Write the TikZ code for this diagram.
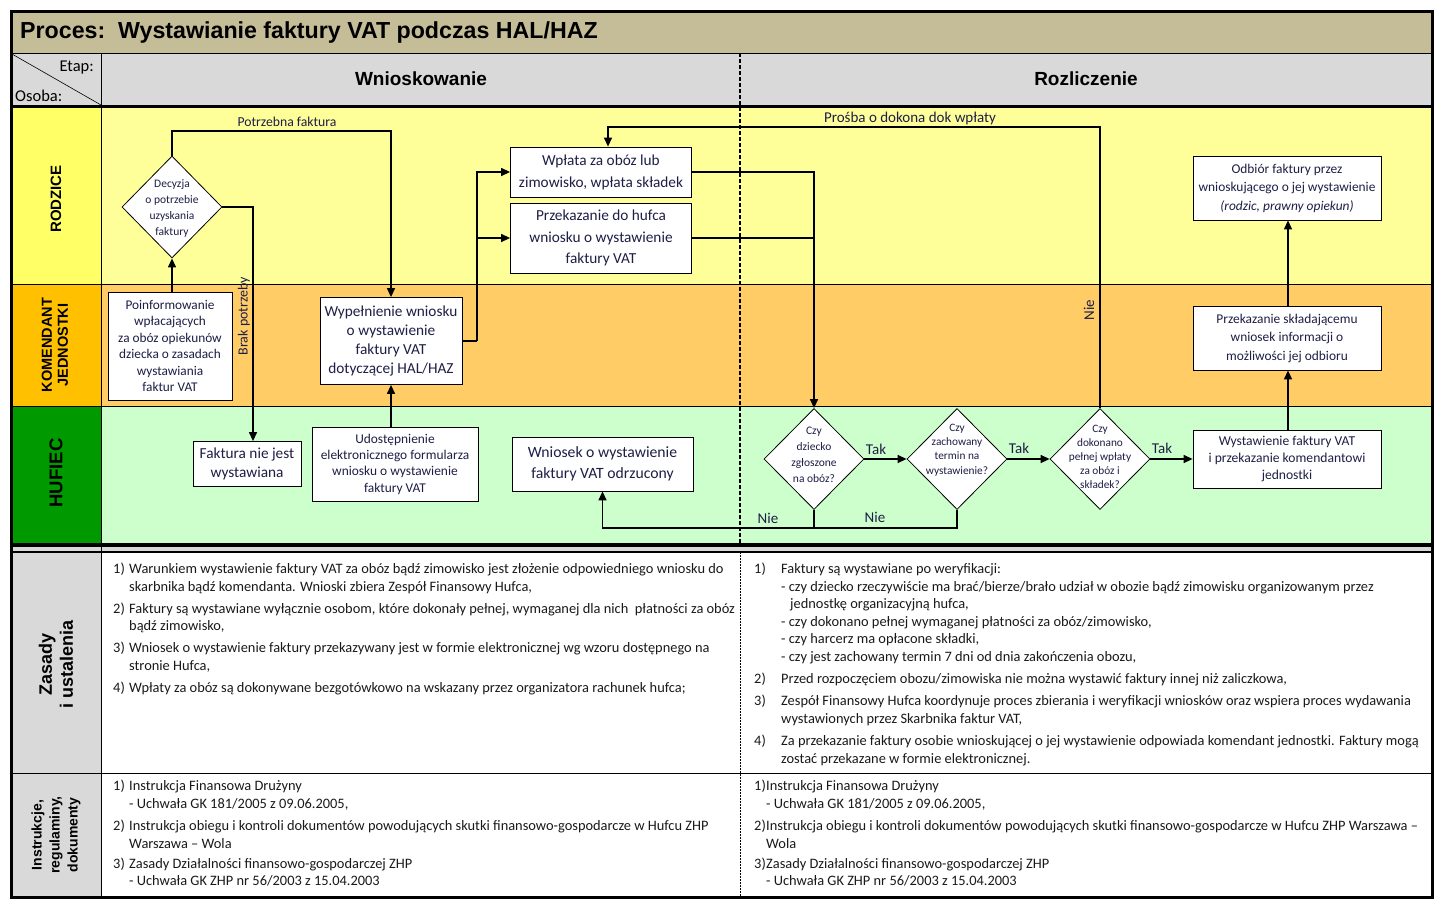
\documentclass[tikz,border=0pt]{standalone}
\usepackage{fontspec}
\setmainfont{Carlito}
\newfontfamily\arial{Liberation Sans}
\usetikzlibrary{arrows.meta,shapes.geometric,calc}
\definecolor{tanc}{HTML}{C4BD97}
\definecolor{hdrgrey}{HTML}{D9D9D9}
\definecolor{yel}{HTML}{FFFF99}
\definecolor{yellab}{HTML}{FFFF66}
\definecolor{ora}{HTML}{FFCC66}
\definecolor{oralab}{HTML}{FFC000}
\definecolor{grn}{HTML}{CCFFCC}
\definecolor{grnlab}{HTML}{009900}
\definecolor{ink}{HTML}{1E1E46}
\newcommand\fsz[2]{\fontsize{#1}{#2}\selectfont}
\newcommand\bline[4]{\node[bodyline] (#1) at (#2,#3) {#4};}
\begin{document}
\begin{tikzpicture}[x=1pt,y=-1pt,
  box/.style={draw=black, line width=0.8pt, fill=white, inner sep=0pt, align=center, text=ink},
  dia/.style={draw=black, line width=0.8pt, fill=white, diamond, inner sep=0pt},
  dtext/.style={inner sep=0pt, align=center, text=ink},
  arr/.style={line width=1.3pt, -{Triangle[length=9pt,width=8pt]}},
  conn/.style={line width=1.3pt},
  lbl/.style={inner sep=0pt, text=ink},
  lanelab/.style={inner sep=0pt, rotate=90, align=center, font=\arial\bfseries},
  bodyline/.style={anchor=base west, inner sep=0pt, font=\fsz{14.4}{16}, text=black!90}
]
\useasboundingbox (0,0) rectangle (1443,907);
% backgrounds
\fill[tanc] (11,12) rectangle (1432,53);
\fill[hdrgrey] (11,53) rectangle (1432,106);
\fill[yellab] (11,106) rectangle (101,284);
\fill[yel] (101,106) rectangle (1432,284);
\fill[oralab] (11,284) rectangle (101,406);
\fill[ora] (101,284) rectangle (1432,406);
\fill[grnlab] (11,406) rectangle (101,545);
\fill[grn] (101,406) rectangle (1432,545);
\fill[hdrgrey] (11,545) rectangle (1432,552);
\fill[hdrgrey] (11,552) rectangle (101,897);
% grid lines
\draw[line width=0.8pt] (11,53) -- (1432,53);
\draw[line width=0.6pt] (12,54) -- (101,105);
\draw[line width=3pt] (11,106) -- (1432,106);
\draw[line width=0.8pt] (11,284) -- (1432,284);
\draw[line width=0.8pt] (11,406) -- (1432,406);
\draw[line width=3.5pt] (11,545) -- (1432,545);
\draw[line width=1.5pt] (11,552) -- (1432,552);
\draw[line width=0.8pt] (11,773) -- (1432,773);
\draw[line width=0.8pt] (101,53) -- (101,897);
\draw[line width=1.8pt, dash pattern=on 4pt off 2pt] (740,53) -- (740,545);
\draw[line width=0.6pt, dash pattern=on 2pt off 1pt] (740,552) -- (740,897);
\draw[line width=3pt] (11,12) rectangle (1432,897);
% headers
\node[anchor=west, inner sep=0pt, font=\arial\bfseries\fsz{23.2}{26}] (title) at (20,33) {Proces:\ \ Wystawianie faktury VAT podczas HAL/HAZ};
\node[anchor=east, inner sep=0pt, font=\fsz{16.5}{18}] (etap) at (94,68) {Etap:};
\node[anchor=west, inner sep=0pt, font=\fsz{16.5}{18}] (osoba) at (15,96) {Osoba:};
\node[inner sep=0pt, font=\arial\bfseries\fsz{19}{24}] (wnio) at (421,79) {Wnioskowanie};
\node[inner sep=0pt, font=\arial\bfseries\fsz{19}{24}] (rozl) at (1086,79) {Rozliczenie};
% lane labels
\node[lanelab, font=\arial\bfseries\fsz{15}{17}] (lrodz) at (56,199) {RODZICE};
\node[lanelab, font=\arial\bfseries\fsz{14.5}{16}] (lkom) at (55,345) {KOMENDANT\\JEDNOSTKI};
\node[lanelab, font=\arial\bfseries\fsz{18.5}{20}] (lhuf) at (56,473) {HUFIEC};
\node[lanelab, font=\arial\bfseries\fsz{18}{21}] (lzas) at (56,664) {Zasady\\i ustalenia};
\node[lanelab, font=\arial\bfseries\fsz{14}{18}] (lins) at (56,835) {Instrukcje,\\regulaminy,\\dokumenty};
% RODZICE lane
\node[dia, minimum width=100pt, minimum height=102pt] (dec1) at (172,207) {};
\node[dtext, font=\fsz{11.5}{16}] (dec1t) at (172,208) {Decyzja\\o potrzebie\\uzyskania\\faktury};
\node[box, minimum width=181pt, minimum height=50pt, font=\fsz{15.3}{22}] (wpl) at (601,172) {Wpłata za obóz lub\\zimowisko, wpłata składek};
\node[box, minimum width=181pt, minimum height=70pt, font=\fsz{15.3}{21.5}] (prz) at (601,238) {Przekazanie do hufca\\wniosku o wystawienie\\faktury VAT};
\node[box, minimum width=188pt, minimum height=64pt, font=\fsz{13.4}{18.5}] (odb) at (1287,188) {Odbiór faktury przez\\wnioskującego o jej wystawienie\\\textit{(rodzic, prawny opiekun)}};
% KOMENDANT lane
\node[box, minimum width=124pt, minimum height=108pt, font=\fsz{13.3}{16.4}] (poinf) at (170,346) {Poinformowanie\\wpłacających\\za obóz opiekunów\\dziecka o zasadach\\wystawiania\\faktur VAT};
\node[box, minimum width=142pt, minimum height=87pt, font=\fsz{15.3}{18.8}] (wyp) at (391,341) {Wypełnienie wniosku\\o wystawienie\\faktury VAT\\dotyczącej HAL/HAZ};
\node[box, minimum width=188pt, minimum height=64pt, font=\fsz{13.4}{18.5}] (prs) at (1287,338) {Przekazanie składającemu\\wniosek informacji o\\możliwości jej odbioru};
% HUFIEC lane
\node[box, minimum width=108pt, minimum height=45pt, font=\fsz{15.3}{19}] (fnw) at (247,464) {Faktura nie jest\\wystawiana};
\node[box, minimum width=166pt, minimum height=74pt, font=\fsz{13.4}{16.3}] (udo) at (395,464) {Udostępnienie\\elektronicznego formularza\\wniosku o wystawienie\\faktury VAT};
\node[box, minimum width=181pt, minimum height=54pt, font=\fsz{15.7}{21}] (odr) at (602.5,464) {Wniosek o wystawienie\\faktury VAT odrzucony};
\node[dia, minimum width=100pt, minimum height=101pt] (d1) at (814,459) {};
\node[dtext, font=\fsz{11.5}{16}] (d1t) at (814,455) {Czy\\dziecko\\zgłoszone\\na obóz?};
\node[dia, minimum width=100pt, minimum height=101pt] (d2) at (957,459) {};
\node[dtext, font=\fsz{11.3}{14.3}] (d2t) at (957,450) {Czy\\zachowany\\termin na\\wystawienie?};
\node[dia, minimum width=100pt, minimum height=101pt] (d3) at (1100,459) {};
\node[dtext, font=\fsz{11.3}{14}] (d3t) at (1100,457) {Czy\\dokonano\\pełnej wpłaty\\za obóz i\\składek?};
\node[box, minimum width=188pt, minimum height=58pt, font=\fsz{13.6}{17}] (wys) at (1287,459) {Wystawienie faktury VAT\\i przekazanie komendantowi\\jednostki};
% coordinates
\coordinate (pf) at (391,131);
\coordinate (bp) at (253,207);
\coordinate (j1) at (477,341);
\coordinate (pr) at (608,127);
\coordinate (nb) at (814,528);
% connectors
\draw[arr] (poinf.north -| dec1.south) -- (dec1.south);
\draw[arr] (dec1.north) |- (pf) -- (wyp.north);
\draw[arr] (dec1.east) -- (bp) -- (bp |- fnw.north);
\draw[conn] (wyp.east) -- (j1);
\draw[arr] (j1) |- (wpl.west);
\draw[arr] (j1) |- (prz.west);
\draw[arr] (wpl.east) -| (d1.north);
\draw[conn] (prz.east) -- (prz.east -| d1.north);
\draw[arr] (d3.north) |- (pr) -- (pr |- wpl.north);
\draw[arr] (wyp.south |- udo.north) -- (wyp.south);
\draw[arr] (d1.east) -- (d2.west);
\draw[arr] (d2.east) -- (d3.west);
\draw[arr] (d3.east) -- (wys.west);
\draw[arr] (d1.south) -- (nb) -| (odr.south);
\draw[conn] (d2.south) |- (nb);
\draw[arr] (wys.north -| 1288,0) -- (prs.south -| 1288,0);
\draw[arr] (prs.north -| 1288,0) -- (odb.south -| 1288,0);
% connector labels
\node[lbl, font=\fsz{13.7}{15}] (lpf) at (287,122) {Potrzebna faktura};
\node[lbl, font=\fsz{14}{15}, rotate=90] (lbp) at (244,316) {Brak potrzeby};
\node[lbl, font=\fsz{15}{16}] (lpr) at (910,119) {Prośba o dokona dok wpłaty};
\node[lbl, font=\fsz{15}{16}, rotate=90] (lnie3) at (1089,310) {Nie};
\node[lbl, font=\fsz{15}{16}] (ltak1) at (876,449) {Tak};
\node[lbl, font=\fsz{15}{16}] (ltak2) at (1019,448) {Tak};
\node[lbl, font=\fsz{15}{16}] (ltak3) at (1162,448) {Tak};
\node[lbl, font=\fsz{15}{16}] (lnie1) at (768,518) {Nie};
\node[lbl, font=\fsz{15}{16}] (lnie2) at (875,517) {Nie};
% Zasady left
\bline{za1n}{113}{573}{1)}
\bline{za1a}{129}{573}{Warunkiem wystawienie faktury VAT za obóz bądź zimowisko jest złożenie odpowiedniego wniosku do}
\bline{za1b}{129}{591}{skarbnika bądź komendanta. Wnioski zbiera Zespół Finansowy Hufca,}
\bline{za2n}{113}{613}{2)}
\bline{za2a}{129}{613}{Faktury są wystawiane wyłącznie osobom, które dokonały pełnej, wymaganej dla nich\ \ płatności za obóz}
\bline{za2b}{129}{630}{bądź zimowisko,}
\bline{za3n}{113}{652}{3)}
\bline{za3a}{129}{652}{Wniosek o wystawienie faktury przekazywany jest w formie elektronicznej wg wzoru dostępnego na}
\bline{za3b}{129}{670}{stronie Hufca,}
\bline{za4n}{113}{692}{4)}
\bline{za4a}{129}{692}{Wpłaty za obóz są dokonywane bezgotówkowo na wskazany przez organizatora rachunek hufca;}
% Zasady right
\bline{zb1n}{754}{573}{1)}
\bline{zb1a}{781}{573}{Faktury są wystawiane po weryfikacji:}
\bline{zb1b}{781}{591}{- czy dziecko rzeczywiście ma brać/bierze/brało udział w obozie bądź zimowisku organizowanym przez}
\bline{zb1c}{790}{608}{jednostkę organizacyjną hufca,}
\bline{zb1d}{781}{626}{- czy dokonano pełnej wymaganej płatności za obóz/zimowisko,}
\bline{zb1e}{781}{643}{- czy harcerz ma opłacone składki,}
\bline{zb1f}{781}{661}{- czy jest zachowany termin 7 dni od dnia zakończenia obozu,}
\bline{zb2n}{754}{683}{2)}
\bline{zb2a}{781}{683}{Przed rozpoczęciem obozu/zimowiska nie można wystawić faktury innej niż zaliczkowa,}
\bline{zb3n}{754}{705}{3)}
\bline{zb3a}{781}{705}{Zespół Finansowy Hufca koordynuje proces zbierania i weryfikacji wniosków oraz wspiera proces wydawania}
\bline{zb3b}{781}{723}{wystawionych przez Skarbnika faktur VAT,}
\bline{zb4n}{754}{745}{4)}
\bline{zb4a}{781}{745}{Za przekazanie faktury osobie wnioskującej o jej wystawienie odpowiada komendant jednostki. Faktury mogą}
\bline{zb4b}{781}{763}{zostać przekazane w formie elektronicznej.}
% Instrukcje left
\bline{ia1n}{113}{790}{1)}
\bline{ia1a}{129}{790}{Instrukcja Finansowa Drużyny}
\bline{ia1b}{129}{808}{- Uchwała GK 181/2005 z 09.06.2005,}
\bline{ia2n}{113}{830}{2)}
\bline{ia2a}{129}{830}{Instrukcja obiegu i kontroli dokumentów powodujących skutki finansowo-gospodarcze w Hufcu ZHP}
\bline{ia2b}{129}{848}{Warszawa – Wola}
\bline{ia3n}{113}{868}{3)}
\bline{ia3a}{129}{868}{Zasady Działalności finansowo-gospodarczej ZHP}
\bline{ia3b}{129}{885}{- Uchwała GK ZHP nr 56/2003 z 15.04.2003}
% Instrukcje right
\bline{ib1n}{754}{790}{1)}
\bline{ib1a}{766}{790}{Instrukcja Finansowa Drużyny}
\bline{ib1b}{766}{808}{- Uchwała GK 181/2005 z 09.06.2005,}
\bline{ib2n}{754}{830}{2)}
\bline{ib2a}{766}{830}{Instrukcja obiegu i kontroli dokumentów powodujących skutki finansowo-gospodarcze w Hufcu ZHP Warszawa –}
\bline{ib2b}{766}{848}{Wola}
\bline{ib3n}{754}{868}{3)}
\bline{ib3a}{766}{868}{Zasady Działalności finansowo-gospodarczej ZHP}
\bline{ib3b}{766}{885}{- Uchwała GK ZHP nr 56/2003 z 15.04.2003}
\end{tikzpicture}
\end{document}
